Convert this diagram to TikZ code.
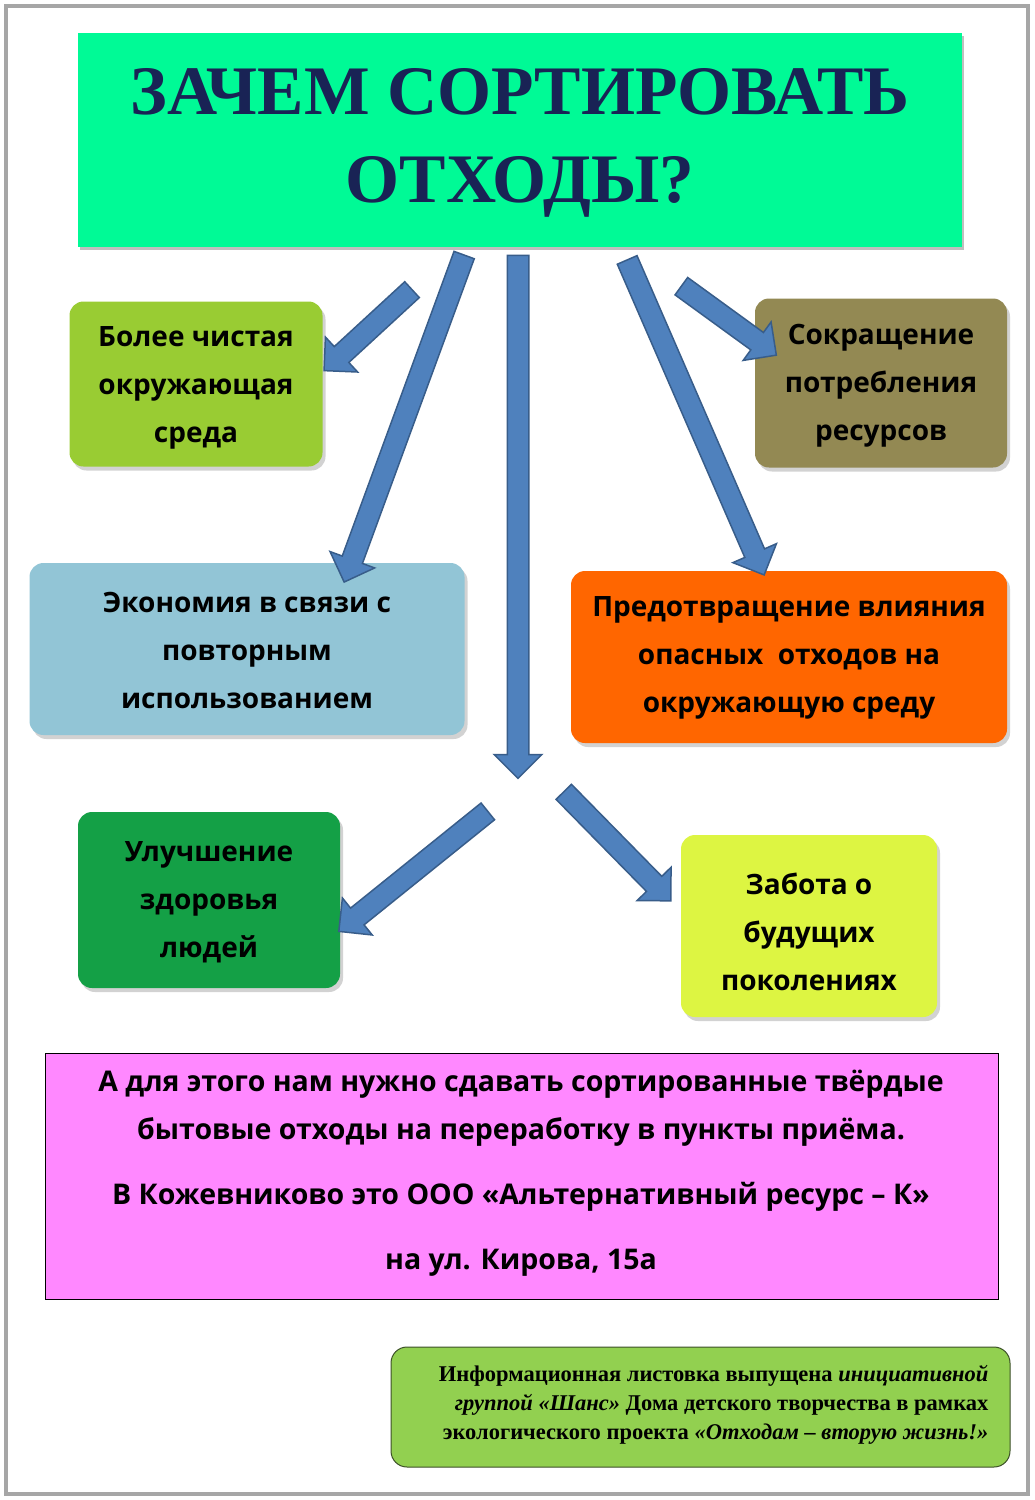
\documentclass[tikz,border=0pt]{standalone}
\usepackage{fontspec}
\setmainfont{Open Sans}
\newfontfamily\tnr{Liberation Serif}
\usetikzlibrary{shapes.arrows,calc,shadows}
\definecolor{titlegreen}{RGB}{0,250,150}
\definecolor{navy}{RGB}{25,35,85}
\definecolor{arrowblue}{RGB}{79,129,189}
\definecolor{arrowedge}{RGB}{56,93,138}
\tikzset{
  box/.style={rounded corners=14pt, minimum width=#1, align=center, font=\bfseries\fontsize{28}{48}\selectfont, inner sep=0pt, drop shadow={shadow xshift=3pt,shadow yshift=-4pt,opacity=.35}},
  barrow/.style={single arrow, draw=arrowedge, fill=arrowblue, line width=1.5pt, minimum width=46pt, single arrow head extend=13pt, single arrow tip angle=90, inner xsep=0pt, inner ysep=10pt, anchor=center}
}
\newcommand\blockarrow[2]{\path let \p1=($(#2)-(#1)$), \n1={atan2(\y1,\x1)}, \n2={veclen(\x1,\y1)} in node[barrow, minimum height=\n2, rotate=\n1] at ($(#1)!0.5!(#2)$) {};}
\begin{document}
\begin{tikzpicture}[x=1pt,y=-1pt]
\useasboundingbox (0,0) rectangle (1034,1500);
\fill[white] (0,0) rectangle (1034,1500);
\draw[gray!70, line width=4pt] (6,6) rectangle (1028,1494);
% title
\node[fill=titlegreen, minimum width=884pt, minimum height=214pt, inner sep=0, drop shadow={shadow xshift=2pt,shadow yshift=-3pt,opacity=.5}] (title) at (520,140) {};
\node[font=\tnr\bfseries\fontsize{69.5}{88}\selectfont, text=navy, align=center] at ([yshift=-3pt]title.center) {ЗАЧЕМ СОРТИРОВАТЬ\\ОТХОДЫ?};
% boxes
\node[box=253pt, minimum height=165pt, fill={rgb,255:red,153;green,204;blue,51}] (b1) at (196,384) {};
\node[font=\bfseries\fontsize{28}{48}\selectfont, align=center] at ([yshift=-4pt]b1.center) {Более чистая\\окружающая\\среда};
\node[box=252pt, minimum height=169pt, fill={rgb,255:red,147;green,137;blue,83}] (b2) at (881,383) {};
\node[font=\bfseries\fontsize{28}{48}\selectfont, align=center] at ([yshift=-3pt]b2.center) {Сокращение\\потребления\\ресурсов};
\node[box=435pt, minimum height=172pt, fill={rgb,255:red,146;green,197;blue,214}] (b3) at (247,649) {};
\node[font=\bfseries\fontsize{28}{48}\selectfont, align=center] at ([yshift=-1pt]b3.center) {Экономия в связи с\\повторным\\использованием};
\node[box=436pt, minimum height=172pt, fill={rgb,255:red,255;green,102;blue,0}] (b4) at (789,657) {};
\node[font=\bfseries\fontsize{28}{48}\selectfont, align=center] at ([yshift=-1pt]b4.center) {Предотвращение влияния\\опасных\ \ отходов на\\окружающую среду};
\node[box=262pt, minimum height=176pt, fill={rgb,255:red,20;green,160;blue,70}] (b5) at (209,900) {};
\node[font=\bfseries\fontsize{28}{48}\selectfont, align=center] at ([yshift=-2pt]b5.center) {Улучшение\\здоровья\\людей};
\node[box=256pt, minimum height=182pt, fill={rgb,255:red,221;green,245;blue,66}] (b6) at (809,926) {};
\node[font=\bfseries\fontsize{28}{48}\selectfont, align=center] at ([yshift=-6pt]b6.center) {Забота о\\будущих\\поколениях};
% arrows
\coordinate (s1) at (416,286); \coordinate (e1) at (328,367);
\coordinate (s2) at (466,250); \coordinate (e2) at (346,577);
\coordinate (s3) at (518,250); \coordinate (e3) at (518,773);
\coordinate (s4) at (625,255); \coordinate (e4) at (762,570);
\coordinate (s5) at (677,283); \coordinate (e5) at (772,352);
\coordinate (s6) at (492,808); \coordinate (e6) at (343,928);
\coordinate (s7) at (560,788); \coordinate (e7) at (667,897);
\blockarrow{s2}{e2}
\blockarrow{s1}{e1}
\blockarrow{s3}{e3}
\blockarrow{s4}{e4}
\blockarrow{s5}{e5}
\blockarrow{s6}{e6}
\blockarrow{s7}{e7}
% pink box
\node[draw=black, line width=0.8pt, fill={rgb,255:red,255;green,136;blue,255}, minimum width=953pt, minimum height=246pt, inner sep=0] (pink) at (521.5,1176) {};
\node[font=\bfseries\fontsize{28.5}{48}\selectfont, align=center] at (521,1108) {А для этого нам нужно сдавать сортированные твёрдые\\бытовые отходы на переработку в пункты приёма.};
\node[font=\bfseries\fontsize{28.5}{48}\selectfont] at (521,1197) {В Кожевниково это ООО «Альтернативный ресурс – К»};
\node[font=\bfseries\fontsize{28.5}{48}\selectfont] at (521,1263) {на ул. Кирова, 15а};
% footer
\node[draw={rgb,255:red,60;green,80;blue,40}, line width=1pt, rounded corners=16pt, fill={rgb,255:red,146;green,208;blue,80}, minimum width=619pt, minimum height=120pt, inner sep=0] (foot) at (700.5,1407) {};
\node[font=\tnr\bfseries\fontsize{22.5}{29}\selectfont, align=right, anchor=east] at (992,1405) {Информационная листовка выпущена \textit{инициативной}\\\textit{группой «Шанс»} Дома детского творчества в рамках\\экологического проекта \textit{«Отходам – вторую жизнь!»}};
\end{tikzpicture}
\end{document}
